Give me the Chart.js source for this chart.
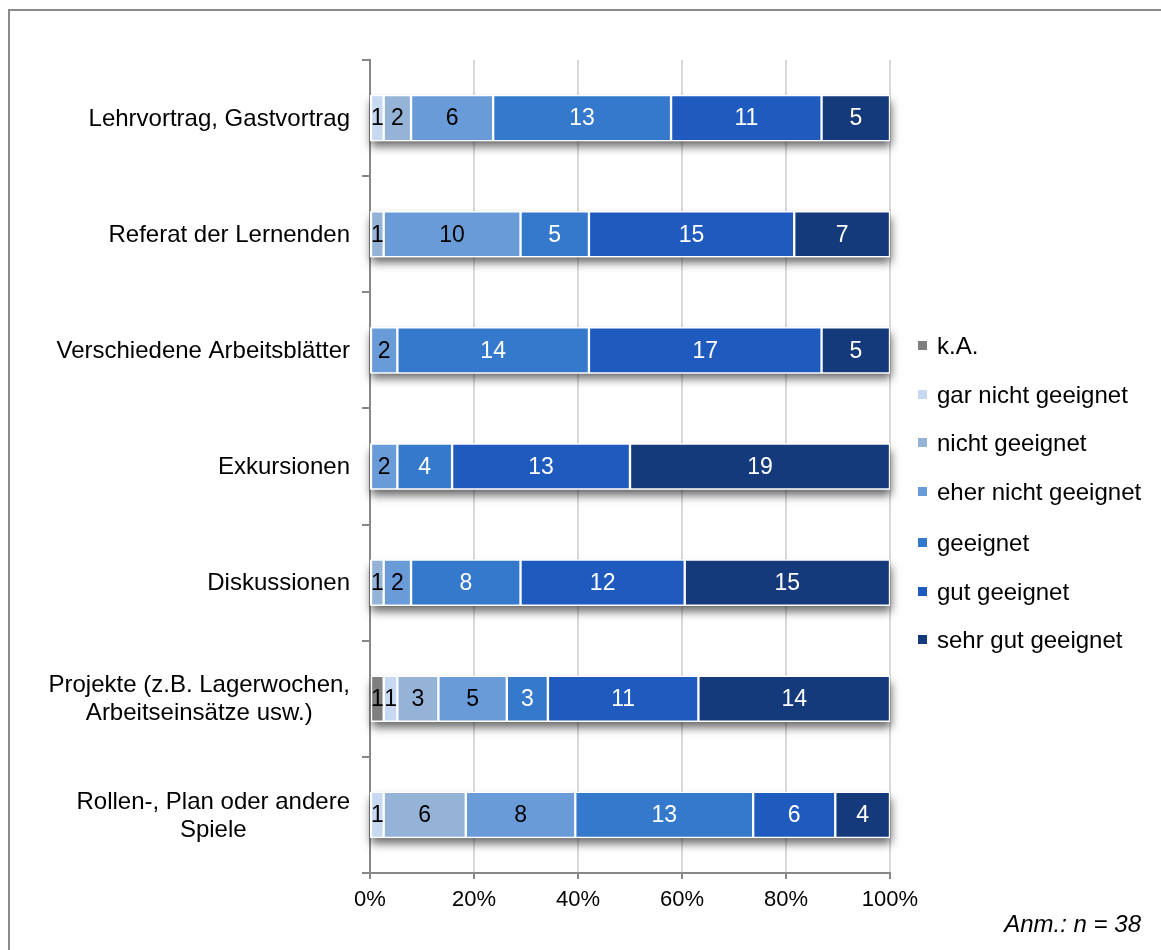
<!DOCTYPE html>
<html><head><meta charset="utf-8">
<script src="https://cdn.jsdelivr.net/npm/chart.js@4.4.1/dist/chart.umd.min.js"></script>
<style>
html,body{margin:0;padding:0;background:#fff;overflow:hidden;}
#wrap{position:relative;width:1161px;height:950px;overflow:hidden;font-family:'Liberation Sans',Arial,sans-serif;}
#frame{position:absolute;left:8px;top:9px;width:1300px;height:1100px;border:2px solid #8a8a8a;}
canvas{position:absolute;left:0;top:0;}
.li{position:absolute;left:918px;white-space:nowrap;font-size:24px;color:#000;height:28px;line-height:28px;}
.sw{display:inline-block;width:9px;height:9px;margin-right:10px;vertical-align:middle;position:relative;top:-2px}
#note{position:absolute;right:20px;top:910px;font-style:italic;font-size:24px;line-height:28px;}
</style></head>
<body>
<div id="wrap">
  <div id="frame"></div>
  <canvas id="c" width="1161" height="950"></canvas>
  <div id="legend"></div>
  <div id="note">Anm.: n = 38</div>
</div>
<script>
const categories = [
  'Lehrvortrag, Gastvortrag',
  'Referat der Lernenden',
  'Verschiedene Arbeitsblätter',
  'Exkursionen',
  'Diskussionen',
  ['Projekte (z.B. Lagerwochen,', 'Arbeitseinsätze usw.)'],
  ['Rollen-, Plan oder andere', 'Spiele']
];
const seriesNames = ['k.A.', 'gar nicht geeignet', 'nicht geeignet', 'eher nicht geeignet', 'geeignet', 'gut geeignet', 'sehr gut geeignet'];
const kA        = [0, 0, 0, 0, 0, 1, 0];
const garNicht  = [1, 0, 0, 0, 0, 1, 1];
const nicht     = [2, 1, 0, 0, 1, 3, 6];
const eherNicht = [6, 10, 2, 2, 2, 5, 8];
const geeignet  = [13, 5, 14, 4, 8, 3, 13];
const gut       = [11, 15, 17, 13, 12, 11, 6];
const sehrGut   = [5, 7, 5, 19, 15, 14, 4];
const xTickLabels = ['0%', '20%', '40%', '60%', '80%', '100%'];

const colors = ['#7f7f7f', '#c6d9f1', '#95b3d7', '#6a9bd9', '#3479cc', '#1f5bbf', '#153a7b'];
const labelColors = ['#000', '#000', '#000', '#000', '#fff', '#fff', '#fff'];
const allSeries = [kA, garNicht, nicht, eherNicht, geeignet, gut, sehrGut];
const totals = categories.map((_, i) => allSeries.reduce((s, a) => s + a[i], 0));

const FONT = "'Liberation Sans', Arial, sans-serif";

const datasets = allSeries.map((arr, k) => ({
  label: seriesNames[k],
  data: arr.map((v, i) => v / totals[i] * 100),
  counts: arr,
  backgroundColor: colors[k],
  borderColor: '#ffffff',
  borderWidth: 1.5,
  borderSkipped: false,
  barThickness: 46
}));

const shadowPlugin = {
  id: 'shadowAndLabels',
  beforeDatasetsDraw(chart) {
    const ctx = chart.ctx;
    const metas = chart.data.datasets.map((d, k) => chart.getDatasetMeta(k));
    ctx.save();
    ctx.shadowColor = 'rgba(0,0,0,0.6)';
    ctx.shadowBlur = 9;
    ctx.shadowOffsetX = 1;
    ctx.shadowOffsetY = 6;
    ctx.fillStyle = '#ffffff';
    categories.forEach((c, i) => {
      let left = Infinity, right = -Infinity, top = 0, h = 0;
      metas.forEach(m => {
        const b = m.data[i];
        left = Math.min(left, b.base, b.x);
        right = Math.max(right, b.base, b.x);
        top = b.y - b.height / 2; h = b.height;
      });
      ctx.fillRect(left, top, right - left, h);
    });
    ctx.restore();
  },
  afterDatasetsDraw(chart) {
    const ctx = chart.ctx;
    ctx.save();
    ctx.font = '23px ' + FONT;
    ctx.textAlign = 'center';
    ctx.textBaseline = 'middle';
    chart.data.datasets.forEach((ds, k) => {
      const meta = chart.getDatasetMeta(k);
      meta.data.forEach((bar, i) => {
        const v = ds.counts[i];
        if (!v) return;
        ctx.fillStyle = labelColors[k];
        ctx.fillText(String(v), (bar.x + bar.base) / 2, bar.y + 1);
      });
    });
    ctx.restore();
  },
  afterDraw(chart) {
    const ctx = chart.ctx;
    const ys = chart.scales.y;
    ctx.save();
    ctx.font = '24px ' + FONT;
    ctx.fillStyle = '#000';
    ctx.textAlign = 'center';
    ctx.textBaseline = 'middle';
    categories.forEach((c, i) => {
      const lines = Array.isArray(c) ? c : [c];
      const maxW = Math.max(...lines.map(l => ctx.measureText(l).width));
      const cx = 350 - maxW / 2;
      const lh = 28;
      const yc = ys.getPixelForTick(i);
      lines.forEach((l, j) => {
        ctx.fillText(l, cx, yc + (j - (lines.length - 1) / 2) * lh + 1);
      });
    });
    ctx.restore();
  }
};

new Chart(document.getElementById('c'), {
  type: 'bar',
  data: { labels: categories, datasets },
  options: {
    indexAxis: 'y',
    responsive: false,
    animation: false,
    devicePixelRatio: 1,
    layout: { padding: { top: 60, right: 271, bottom: 0, left: 0 } },
    plugins: { legend: { display: false }, tooltip: { enabled: false } },
    scales: {
      x: {
        stacked: true, min: 0, max: 100,
        afterFit(s) { s.height = 77; },
        ticks: {
          stepSize: 20, color: '#000', padding: 8,
          font: { family: FONT, size: 22 },
          callback: (v) => xTickLabels[Math.round(v / 20)]
        },
        grid: { color: '#d9d9d9', lineWidth: 2, tickColor: '#888', tickLength: 6 },
        border: { color: '#888', width: 2 }
      },
      y: {
        stacked: true,
        afterFit(s) { s.width = 370; },
        ticks: { display: false },
        grid: { offset: true, drawOnChartArea: false, tickLength: 8, color: '#888', tickColor: '#888', lineWidth: 2 },
        border: { color: '#888', width: 2 }
      }
    }
  },
  plugins: [shadowPlugin]
});

const legendCenters = [346, 395, 443, 492, 543, 592, 640];
const lg = document.getElementById('legend');
seriesNames.forEach((n, k) => {
  const d = document.createElement('div');
  d.className = 'li';
  d.style.top = (legendCenters[k] - 14) + 'px';
  d.innerHTML = '<span class="sw" style="background:' + colors[k] + '"></span>' + n;
  lg.appendChild(d);
});
</script>
</body></html>
